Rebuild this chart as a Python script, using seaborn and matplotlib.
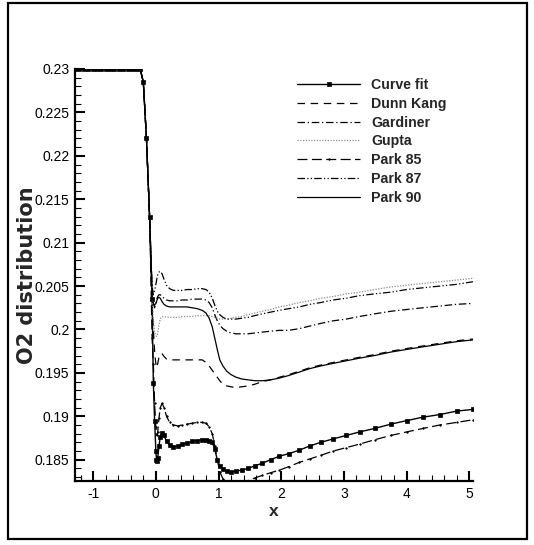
import numpy as np
import pandas as pd
import matplotlib
matplotlib.use("Agg")
import matplotlib.pyplot as plt
from matplotlib.ticker import MultipleLocator, FuncFormatter
from matplotlib.patches import Rectangle
import seaborn as sns

# ---------------- data ----------------
x = [-1.29, -1.22, -1.15, -1.08, -1.01, -0.94, -0.87, -0.80, -0.73, -0.66,
     -0.59, -0.52, -0.45, -0.38, -0.31, -0.25, -0.20, -0.15, -0.10, -0.06,
     -0.04, -0.02, 0.00, 0.01, 0.02, 0.03, 0.05, 0.07, 0.10, 0.13,
     0.17, 0.22, 0.28, 0.35, 0.42, 0.50, 0.58, 0.66, 0.74, 0.80,
     0.85, 0.90, 0.94, 0.98, 1.02, 1.07, 1.13, 1.20, 1.28, 1.37,
     1.47, 1.58, 1.70, 1.83, 1.97, 2.12, 2.29, 2.46, 2.63, 2.83,
     3.04, 3.25, 3.49, 3.75, 4.00, 4.26, 4.53, 4.80, 5.06]

flat = [0.23] * 16 + [0.2285, 0.222, 0.213]

curve_fit = flat + [
    0.2035, 0.1938, 0.1895, 0.1860, 0.1850, 0.1848, 0.1852, 0.1866, 0.1876, 0.1881, 0.1878,
    0.1871, 0.1867, 0.1865, 0.1866, 0.1868, 0.1869, 0.1871, 0.1872, 0.1873, 0.1873,
    0.1872, 0.1870, 0.1862, 0.1850, 0.1843, 0.1839, 0.1837, 0.1836, 0.1837, 0.1838,
    0.1840, 0.1843, 0.1846, 0.1850, 0.1854, 0.1857, 0.1861, 0.1866, 0.1870, 0.1874,
    0.1878, 0.1882, 0.1886, 0.1891, 0.1895, 0.1899, 0.1902, 0.1906, 0.1908]

dunn_kang = flat + [
    0.2030, 0.2000, 0.1975, 0.1960, 0.1956, 0.1957, 0.1961, 0.1968, 0.1972, 0.1972, 0.1969,
    0.1966, 0.1965, 0.1965, 0.1965, 0.1965, 0.1965, 0.1965, 0.1965, 0.1965, 0.1962,
    0.1958, 0.1953, 0.1949, 0.1945, 0.1941, 0.1937, 0.1935, 0.1934, 0.1933, 0.1934,
    0.1935, 0.1937, 0.1940, 0.1942, 0.1945, 0.1948, 0.1952, 0.1956, 0.1959, 0.1962,
    0.1965, 0.1968, 0.1971, 0.1975, 0.1978, 0.1981, 0.1984, 0.1987, 0.1989]

gardiner = flat + [
    0.2045, 0.2030, 0.2025, 0.2030, 0.2033, 0.2036, 0.2038, 0.2040, 0.2040, 0.2038, 0.2036,
    0.2034, 0.2033, 0.2033, 0.2033, 0.2034, 0.2034, 0.2035, 0.2035, 0.2035, 0.2034,
    0.2031, 0.2025, 0.2017, 0.2010, 0.2005, 0.2001, 0.1998, 0.1996, 0.1995, 0.1995,
    0.1995, 0.1996, 0.1997, 0.1998, 0.1999, 0.1999, 0.2001, 0.2004, 0.2007, 0.2010,
    0.2012, 0.2015, 0.2018, 0.2021, 0.2023, 0.2025, 0.2027, 0.2029, 0.2030]

gupta = flat + [
    0.2040, 0.2010, 0.1998, 0.1993, 0.1992, 0.1993, 0.1996, 0.2005, 0.2012, 0.2015, 0.2015,
    0.2014, 0.2014, 0.2014, 0.2014, 0.2015, 0.2015, 0.2015, 0.2016, 0.2016, 0.2016,
    0.2016, 0.2015, 0.2014, 0.2013, 0.2012, 0.2012, 0.2012, 0.2013, 0.2014, 0.2015,
    0.2017, 0.2019, 0.2021, 0.2023, 0.2026, 0.2028, 0.2031, 0.2033, 0.2036, 0.2038,
    0.2041, 0.2043, 0.2046, 0.2049, 0.2051, 0.2053, 0.2055, 0.2057, 0.2059]

park85 = flat + [
    0.1990, 0.1960, 0.1915, 0.1888, 0.1880, 0.1878, 0.1882, 0.1898, 0.1910, 0.1915, 0.1910,
    0.1900, 0.1893, 0.1890, 0.1889, 0.1890, 0.1891, 0.1892, 0.1893, 0.1893, 0.1892,
    0.1888, 0.1880, 0.1866, 0.1850, 0.1836, 0.1828, 0.1822, 0.1819, 0.1818, 0.1820,
    0.1826, 0.1829, 0.1832, 0.1835, 0.1838, 0.1842, 0.1847, 0.1851, 0.1855, 0.1860,
    0.1864, 0.1868, 0.1873, 0.1878, 0.1882, 0.1886, 0.1890, 0.1893, 0.1896]

park87 = flat + [
    0.2050, 0.2040, 0.2045, 0.2052, 0.2056, 0.2060, 0.2063, 0.2066, 0.2067, 0.2064, 0.2058,
    0.2051, 0.2047, 0.2045, 0.2045, 0.2045, 0.2046, 0.2046, 0.2047, 0.2047, 0.2046,
    0.2043, 0.2036, 0.2028, 0.2021, 0.2017, 0.2014, 0.2012, 0.2012, 0.2012, 0.2013,
    0.2014, 0.2016, 0.2018, 0.2020, 0.2022, 0.2024, 0.2026, 0.2029, 0.2031, 0.2034,
    0.2036, 0.2039, 0.2041, 0.2043, 0.2046, 0.2048, 0.2050, 0.2052, 0.2055]

park90 = flat + [
    0.2040, 0.2030, 0.2028, 0.2030, 0.2032, 0.2034, 0.2036, 0.2037, 0.2036, 0.2032, 0.2029,
    0.2027, 0.2026, 0.2026, 0.2026, 0.2026, 0.2026, 0.2025, 0.2024, 0.2022, 0.2019,
    0.2013, 0.2003, 0.1990, 0.1977, 0.1965, 0.1958, 0.1952, 0.1948, 0.1945, 0.1943,
    0.1942, 0.1941, 0.1941, 0.1942, 0.1944, 0.1947, 0.1951, 0.1955, 0.1958, 0.1961,
    0.1964, 0.1967, 0.1970, 0.1974, 0.1977, 0.1980, 0.1983, 0.1986, 0.1988]

labels = ["Curve fit", "Dunn Kang", "Gardiner", "Gupta", "Park 85", "Park 87", "Park 90"]
series = [curve_fit, dunn_kang, gardiner, gupta, park85, park87, park90]

x_ticks = [-1, 0, 1, 2, 3, 4, 5]
y_ticks = [0.185, 0.19, 0.195, 0.2, 0.205, 0.21, 0.215, 0.22, 0.225, 0.23]

# ---------------- styling ----------------
styles = {
    "Curve fit": dict(color="black", linestyle="-", lw=1.0, marker="s", markersize=3.2),
    "Dunn Kang": dict(color="black", linestyle=(0, (6, 4.5)), lw=0.9),
    "Gardiner": dict(color="black", linestyle=(0, (6, 2.2, 1, 2.2)), lw=0.9),
    "Gupta": dict(color="#8a8a8a", linestyle=(0, (1, 1.2)), lw=0.9),
    "Park 85": dict(color="black", linestyle=(0, (8, 3.5)), lw=0.9, marker=".", markersize=2.2),
    "Park 87": dict(color="black", linestyle=(0, (6, 1.8, 1, 1.8, 1, 1.8)), lw=0.9),
    "Park 90": dict(color="black", linestyle="-", lw=0.9),
}

sns.set_style("ticks")
plt.rcParams["font.family"] = ["Liberation Sans", "DejaVu Sans"]

W, H = 534, 545
fig = plt.figure(figsize=(W / 100, H / 100), dpi=100)
ax = fig.add_axes([75 / W, 1 - 481 / H, (473 - 75) / W, (481 - 69) / H])

for lab, ys in zip(labels, series):
    df = pd.DataFrame({"x": x, "y": ys})
    st = dict(styles[lab])
    kws = {}
    if "marker" in st:
        kws["markeredgecolor"] = "black"
        kws["markerfacecolor"] = "black"
        kws["markeredgewidth"] = 0.5
    sns.lineplot(data=df, x="x", y="y", ax=ax, sort=False, estimator=None,
                 label=lab, legend=False, **st, **kws)

ax.set_xlim(-1.29, 5.06)
ax.set_ylim(0.18255, 0.23)

ax.set_xticks(x_ticks)
ax.set_yticks(y_ticks)
ax.xaxis.set_minor_locator(MultipleLocator(0.2))
ax.yaxis.set_minor_locator(MultipleLocator(0.001))
ax.yaxis.set_major_formatter(FuncFormatter(lambda v, p: f"{round(v, 4):g}"))
ax.xaxis.set_major_formatter(FuncFormatter(lambda v, p: f"{int(round(v))}"))

ax.tick_params(which="major", direction="in", length=7, width=1.5, labelsize=10,
               colors="black", pad=4)
ax.tick_params(which="minor", direction="in", length=4, width=0.8, colors="black")
for s in ["top", "right"]:
    ax.spines[s].set_visible(False)
for s in ["left", "bottom"]:
    ax.spines[s].set_linewidth(1.6)
    ax.spines[s].set_color("black")

ax.set_xlabel("x", fontsize=12.5, fontweight="bold")
ax.xaxis.set_label_coords(0.5, -0.055)
ax.set_ylabel("O2 distribution", fontsize=15, fontweight="bold",
              family=["DejaVu Sans"])
ax.yaxis.set_label_coords(-0.095, 0.5)

leg = ax.legend(loc="upper left", bbox_to_anchor=(297 / W, 1 - 78 / H),
                bbox_transform=fig.transFigure, frameon=False, numpoints=1,
                handlelength=4.45, handletextpad=0.8, labelspacing=0.34,
                borderpad=0, borderaxespad=0,
                prop=dict(family=["Liberation Sans", "DejaVu Sans"], weight="bold", size=10.2))

fig.patches.append(Rectangle((8 / W, 1 - 539 / H), (527 - 8) / W, (539 - 3) / H,
                             transform=fig.transFigure, fill=False,
                             edgecolor="black", linewidth=1.6))

fig.savefig("out.png", dpi=100)
